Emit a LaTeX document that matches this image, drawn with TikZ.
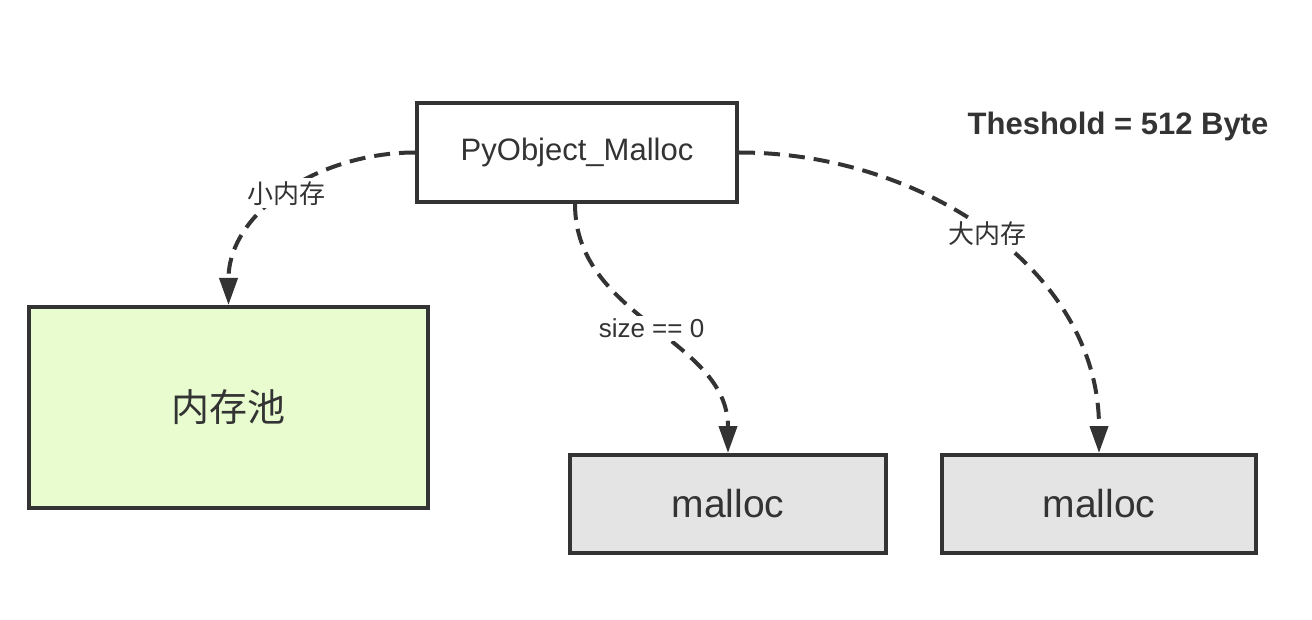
\documentclass[tikz,border=0pt]{standalone}
\usepackage{fontspec}
\setmainfont{Liberation Sans}
\newfontfamily\cjk{Noto Sans CJK SC}
\usetikzlibrary{arrows.meta, positioning}
\definecolor{ink}{HTML}{333333}
\definecolor{poolgreen}{HTML}{E8FCD0}
\definecolor{sysgray}{HTML}{E4E4E4}

\begin{document}
\begin{tikzpicture}[x=1pt, y=-1pt, color=ink,
    box/.style={rectangle, draw=ink, line width=4pt, inner sep=0pt, align=center},
    flow/.style={line width=4pt, dash pattern=on 16pt off 9pt, -{Triangle[length=27pt,width=18pt]}},
    tag/.style={fill=white, inner sep=3pt, font=\fontsize{26}{30}\selectfont}]
\useasboundingbox (0,0) rectangle (1312,620);
\node[box, minimum width=320pt, minimum height=99pt, font=\fontsize{31}{36}\selectfont] (api) at (577,152.5) {PyObject\_Malloc};
\node[box, fill=poolgreen, minimum width=399pt, minimum height=201pt, font=\cjk\fontsize{38}{44}\selectfont, below left=101pt and -15pt of api] (pool) {内存池};
\node[box, fill=sysgray, minimum width=316pt, minimum height=98pt, font=\fontsize{39}{44}\selectfont, below right=249pt and -171pt of api] (sys1) {malloc};
\node[box, fill=sysgray, minimum width=314pt, minimum height=98pt, font=\fontsize{39}{44}\selectfont, right=52pt of sys1] (sys2) {malloc};
\node[font=\bfseries\fontsize{31}{36}\selectfont] (limit) at (1118,126) {Theshold = 512 Byte};
% allocation paths
\coordinate (apibot) at ([xshift=-2pt]api.south);
\draw[flow] (api.west) to[out=180, in=90] node[tag, font=\cjk\fontsize{26}{30}\selectfont] {小内存} (pool.north);
\draw[flow] (apibot) to[out=-90, in=90] node[tag] {size == 0} (sys1.north);
\draw[flow] (api.east) to[out=0, in=90] node[tag, font=\cjk\fontsize{26}{30}\selectfont] {大内存} (sys2.north);
\end{tikzpicture}
\end{document}
